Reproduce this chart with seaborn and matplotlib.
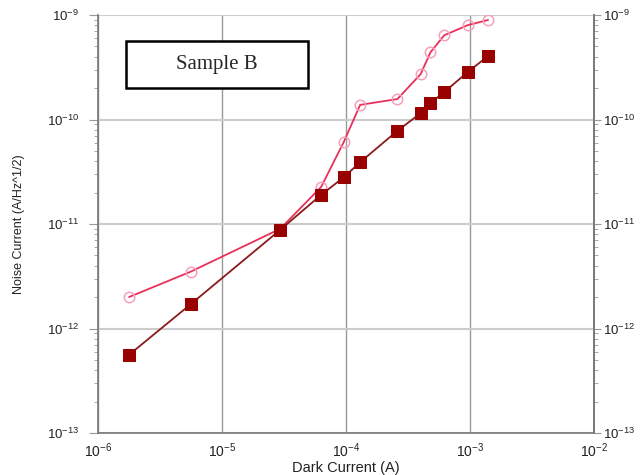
import matplotlib
matplotlib.use('Agg')
import matplotlib.pyplot as plt
import seaborn as sns
import pandas as pd
from matplotlib.patches import Rectangle
from matplotlib.ticker import LogLocator, NullFormatter

# Values
dark_current = [1.78e-6, 5.6e-6, 2.95e-5, 6.3e-5, 9.6e-5, 1.3e-4,
                2.6e-4, 4.0e-4, 4.8e-4, 6.2e-4, 9.6e-4, 1.4e-3]
noise_measured = [5.6e-13, 1.71e-12, 8.8e-12, 1.9e-11, 2.8e-11, 3.9e-11,
                  7.8e-11, 1.15e-10, 1.44e-10, 1.83e-10, 2.85e-10, 4.05e-10]
noise_other = [2.0e-12, 3.5e-12, 9.0e-12, 2.26e-11, 6.1e-11, 1.38e-10,
               1.57e-10, 2.72e-10, 4.4e-10, 6.4e-10, 8.0e-10, 8.96e-10]
x_ticks = [1e-6, 1e-5, 1e-4, 1e-3, 1e-2]
y_ticks = [1e-13, 1e-12, 1e-11, 1e-10, 1e-9]
box_label = 'Sample B'

df = pd.DataFrame({'dark': dark_current, 'sq': noise_measured, 'circ': noise_other})

sns.set_style('white')
plt.rcParams['font.family'] = ['Liberation Sans', 'DejaVu Sans']

fig = plt.figure(figsize=(6.41, 4.75), dpi=100)
ax = fig.add_axes([98 / 641, 42 / 475, 496 / 641, 418 / 475])

sns.lineplot(data=df, x='dark', y='circ', ax=ax, sort=False, color='#e8305a',
             linewidth=1.3, marker='o', markersize=7.5, markerfacecolor='none',
             markeredgecolor='#f4a0bc', markeredgewidth=1.1, zorder=3)
sns.lineplot(data=df, x='dark', y='sq', ax=ax, sort=False, color='#8b1a1a',
             linewidth=1.3, marker='s', markersize=8.5, markerfacecolor='#990000',
             markeredgecolor='#990000', zorder=4)

ax.set_xscale('log')
ax.set_yscale('log')

ax.grid(True, which='major', axis='x', color='#999999', linewidth=1.0)
ax.grid(True, which='major', axis='y', color='#cccccc', linewidth=1.5)

for side in ['left', 'right', 'bottom']:
    ax.spines[side].set_color('#777777')
    ax.spines[side].set_linewidth(1.2)
ax.spines['top'].set_visible(False)

# right-hand copy of the y axis, with its own label padding
sec = ax.secondary_yaxis('right')
sec.spines['right'].set_color('#777777')
sec.spines['right'].set_linewidth(1.2)

ax.set_xticks(x_ticks)
ax.set_yticks(y_ticks)
sec.set_yticks(y_ticks)
for axis in [ax.xaxis, ax.yaxis, sec.yaxis]:
    axis.set_minor_locator(LogLocator(base=10, subs=range(2, 10), numticks=20))
    axis.set_minor_formatter(NullFormatter())
ax.set_xlim(x_ticks[0], x_ticks[-1])
ax.set_ylim(y_ticks[0], y_ticks[-1])

ax.tick_params(axis='y', which='major', direction='out', length=6.5, width=0.8,
               color='#999999', labelsize=9.5, labelcolor='#222222', pad=7)
sec.tick_params(axis='y', which='major', direction='out', length=5, width=0.8,
                color='#999999', labelsize=9.5, labelcolor='#222222', pad=1.5)
ax.tick_params(axis='x', which='major', direction='out', length=3, width=0.8,
               color='#999999', labelsize=10, labelcolor='#222222', pad=3)
ax.tick_params(axis='both', which='minor', direction='out', length=3, width=0.6,
               color='#999999')
sec.tick_params(axis='y', which='minor', direction='out', length=3, width=0.6,
                color='#999999')
ax.tick_params(axis='y', which='both', left=True, right=False)

ax.set_xlabel('Dark Current (A)', fontsize=10.5, labelpad=0.5, color='#222222')
ax.set_ylabel('Noise Current (A/Hz^1/2)', fontsize=9, color='#222222')
ax.yaxis.set_label_coords(-0.148, 0.5)

ax.add_patch(Rectangle((0.0565, 0.825), 0.3665, 0.113, transform=ax.transAxes,
                       fill=True, facecolor='white', edgecolor='black',
                       linewidth=1.8, zorder=5))
ax.text(0.24, 0.8815, box_label, transform=ax.transAxes, ha='center', va='center',
        fontsize=15, family=['Liberation Serif', 'DejaVu Serif'], zorder=6)

fig.savefig('out.png', dpi=100)
